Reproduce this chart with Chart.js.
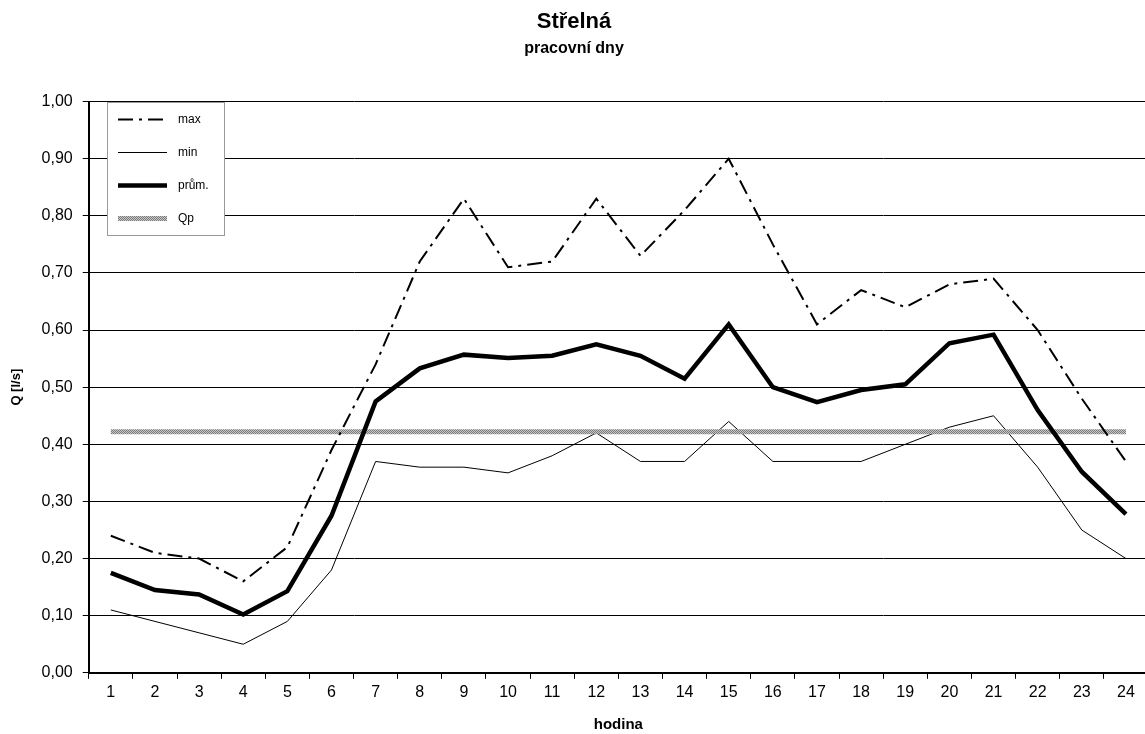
<!DOCTYPE html>
<html><head><meta charset="utf-8">
<script src="https://cdn.jsdelivr.net/npm/chart.js@4/dist/chart.umd.min.js"></script>
<style>html,body{margin:0;padding:0;background:#fff;overflow:hidden}#wrap{width:1145px;height:734px;overflow:hidden}</style>
</head><body><div id="wrap"><canvas id="c" width="1148" height="734"></canvas></div>
<script>
const hours = ['1','2','3','4','5','6','7','8','9','10','11','12','13','14','15','16','17','18','19','20','21','22','23','24'];
const maxVals = [0.24,0.21,0.20,0.16,0.22,0.39,0.54,0.72,0.83,0.71,0.72,0.83,0.73,0.81,0.90,0.75,0.61,0.67,0.64,0.68,0.69,0.60,0.48,0.37];
const minVals = [0.11,0.09,0.07,0.05,0.09,0.18,0.37,0.36,0.36,0.35,0.38,0.42,0.37,0.37,0.44,0.37,0.37,0.37,0.40,0.43,0.45,0.36,0.25,0.20];
const avgVals = [0.175,0.145,0.137,0.102,0.143,0.275,0.475,0.533,0.557,0.551,0.555,0.575,0.555,0.515,0.61,0.50,0.474,0.495,0.505,0.577,0.592,0.46,0.352,0.278];
const qpVal = 0.422;
const qpVals = hours.map(() => qpVal);
const seriesNames = ['max','min','prům.','Qp'];

const FONT = "'Liberation Sans', Arial, sans-serif";
// hatched grey pattern for Qp
const pc = document.createElement('canvas'); pc.width = 2; pc.height = 2;
const px = pc.getContext('2d');
px.fillStyle = '#c8c8c8'; px.fillRect(0,0,2,2);
px.fillStyle = '#7a7a7a'; px.fillRect(0,0,1,1); px.fillRect(1,1,1,1);
const qpPattern = document.getElementById('c').getContext('2d').createPattern(pc,'repeat');

const legendPlugin = {
  id: 'boxLegend',
  afterDatasetsDraw(chart) {
    const ctx = chart.ctx;
    const x0 = 107, y0 = 102, w = 117, h = 133;
    ctx.save();
    ctx.fillStyle = '#fff';
    ctx.fillRect(x0, y0, w, h);
    ctx.strokeStyle = '#999'; ctx.lineWidth = 1;
    ctx.strokeRect(x0 + 0.5, y0 + 0.5, w, h);
    [0,1,2,3].forEach((di, i) => {
      const ds = chart.data.datasets[di];
      const y = y0 + 17 + i * 33 + 0.5;
      ctx.beginPath();
      ctx.setLineDash(ds.borderDash || []);
      ctx.lineWidth = ds.borderWidth;
      ctx.strokeStyle = ds.borderColor;
      ctx.lineCap = 'butt';
      ctx.moveTo(x0 + 11, y); ctx.lineTo(x0 + 60, y);
      ctx.stroke();
      ctx.setLineDash([]);
      ctx.fillStyle = '#000';
      ctx.font = '12px ' + FONT;
      ctx.textBaseline = 'middle';
      ctx.fillText(ds.label, x0 + 71, y);
    });
    ctx.restore();
  }
};

new Chart(document.getElementById('c'), {
  type: 'line',
  data: {
    labels: hours,
    datasets: [
      { label: seriesNames[0], data: maxVals, borderColor: '#000', borderWidth: 2, borderDash: [15,6,3,6], pointRadius: 0, fill: false, tension: 0, order: 0 },
      { label: seriesNames[1], data: minVals, borderColor: '#000', borderWidth: 1, pointRadius: 0, fill: false, tension: 0, order: 3 },
      { label: seriesNames[2], data: avgVals, borderColor: '#000', borderWidth: 4.5, pointRadius: 0, fill: false, tension: 0, order: 1 },
      { label: seriesNames[3], data: qpVals, borderColor: qpPattern, borderWidth: 5, pointRadius: 0, fill: false, tension: 0, order: 2 }
    ]
  },
  options: {
    responsive: false,
    animation: false,
    layout: { padding: { left: 0, right: 0, top: 0, bottom: 0 } },
    plugins: {
      legend: { display: false },
      tooltip: { enabled: false },
      title: { display: true, text: 'Střelná', color: '#000', font: { family: FONT, size: 22, weight: 'bold' }, padding: { top: 9, bottom: 4 } },
      subtitle: { display: true, text: 'pracovní dny', color: '#000', font: { family: FONT, size: 16, weight: 'bold' }, padding: { top: 0, bottom: 43 } }
    },
    scales: {
      x: {
        offset: true,
        grid: { offset: true, drawOnChartArea: false, drawTicks: true, tickLength: 6, color: '#000' },
        border: { color: '#000', width: 2 },
        ticks: { color: '#000', font: { family: FONT, size: 16 }, padding: 4, maxRotation: 0, autoSkip: false },
        title: { display: true, text: 'hodina', color: '#000', font: { family: FONT, size: 15, weight: 'bold' }, padding: { top: 10, bottom: 0 } }
      },
      y: {
        min: 0, max: 1,
        grid: { color: '#000', lineWidth: 1, drawTicks: true, tickLength: 6 },
        border: { color: '#000', width: 2 },
        ticks: { stepSize: 0.1, color: '#000', font: { family: FONT, size: 16 }, padding: 10,
          callback: v => v.toFixed(2).replace('.', ',') },
        title: { display: true, text: 'Q [l/s]', color: '#000', font: { family: FONT, size: 13, weight: 'bold' }, padding: { top: 9, bottom: 7 } }
      }
    }
  },
  plugins: [legendPlugin]
});
</script>
</body></html>
